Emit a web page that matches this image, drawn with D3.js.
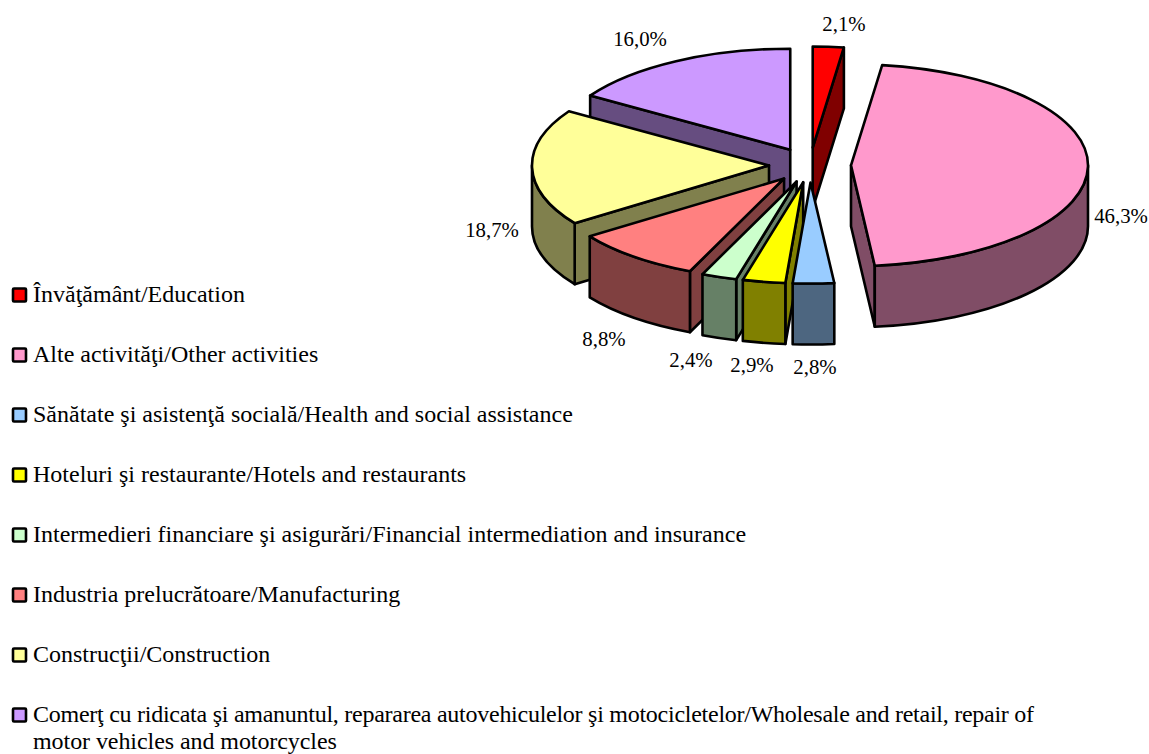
<!DOCTYPE html>
<html>
<head>
<meta charset="utf-8">
<title>Pie</title>
<style>
  html, body { margin: 0; padding: 0; background: #fff; }
  text { font-family: "Liberation Serif", serif; fill: #000; }
</style>
</head>
<body>
<script src="https://cdn.jsdelivr.net/npm/d3@7/dist/d3.min.js"></script>
<script>
var names = [
  "Învăţământ/Education",
  "Alte activităţi/Other activities",
  "Sănătate şi asistenţă socială/Health and social assistance",
  "Hoteluri şi restaurante/Hotels and restaurants",
  "Intermedieri financiare şi asigurări/Financial intermediation and insurance",
  "Industria prelucrătoare/Manufacturing",
  "Construcţii/Construction",
  "Comerţ cu ridicata şi amanuntul, repararea autovehiculelor şi motocicletelor/Wholesale and retail, repair of|motor vehicles and motorcycles"
];
var values = [2.1, 46.3, 2.8, 2.9, 2.4, 8.8, 18.7, 16.0];
var topColors = ["#ff0000", "#ff99cc", "#99ccff", "#ffff00", "#ccffcc", "#ff8080", "#ffff99", "#cc99ff"];
var sideColors = ["#800000", "#804d66", "#4d6680", "#808000", "#668066", "#804040", "#80804d", "#664d80"];

// label centres, placed by hand like in the original
var labelX = [844, 1121, 815, 752, 691, 604, 492, 640];
var labelY = [24, 216, 367, 365, 360, 339, 230, 39];

var width = 1149, height = 754;
var cx = 810, cy = 165;     // pie centre before exploding
var rx = 237, ry = 101;     // ellipse radii
var depth = 61;
var explode = 41 / rx;      // share of the radius

var svg = d3.select("body").append("svg")
  .attr("width", width)
  .attr("height", height)
  .style("display", "block");

var pie = d3.pie().sort(null).startAngle(0).endAngle(2 * Math.PI);
var slices = pie(values).map(function(d, i) {
  var mid = (d.startAngle + d.endAngle) / 2;
  d.index = i;
  d.mid = mid;
  d.ax = cx + explode * rx * Math.sin(mid);
  d.ay = cy - explode * ry * Math.cos(mid);
  return d;
});

function px(d, a) { return d.ax + rx * Math.sin(a); }
function py(d, a) { return d.ay - ry * Math.cos(a); }

function topPath(d) {
  var p = "M" + d.ax + "," + d.ay + "L" + px(d, d.startAngle) + "," + py(d, d.startAngle);
  p += "A" + rx + "," + ry + " 0 " + (d.endAngle - d.startAngle > Math.PI ? 1 : 0) + " 1 " + px(d, d.endAngle) + "," + py(d, d.endAngle);
  return p + "Z";
}

function wallPath(d, a) {
  return "M" + d.ax + "," + d.ay + "L" + px(d, a) + "," + py(d, a) +
    "L" + px(d, a) + "," + (py(d, a) + depth) + "L" + d.ax + "," + (d.ay + depth) + "Z";
}

// only the part of the rim between 90 and 270 degrees faces the viewer
function rimPath(d) {
  var a0 = Math.max(d.startAngle, Math.PI / 2), a1 = Math.min(d.endAngle, 3 * Math.PI / 2);
  if (a1 <= a0) return null;
  return "M" + px(d, a0) + "," + py(d, a0) +
    "A" + rx + "," + ry + " 0 0 1 " + px(d, a1) + "," + py(d, a1) +
    "L" + px(d, a1) + "," + (py(d, a1) + depth) +
    "A" + rx + "," + ry + " 0 0 0 " + px(d, a0) + "," + (py(d, a0) + depth) + "Z";
}

// painters order, back slices first
var ordered = slices.slice().sort(function(a, b) {
  return Math.cos(b.mid) - Math.cos(a.mid);
});

var groups = svg.append("g").selectAll("g")
  .data(ordered)
  .enter()
  .append("g")
  .attr("stroke", "#000")
  .attr("stroke-width", 2.6)
  .attr("stroke-linejoin", "round");

groups.each(function(d) {
  var g = d3.select(this);
  var side = sideColors[d.index];
  if (Math.sin(d.startAngle) < 0) g.append("path").attr("d", wallPath(d, d.startAngle)).attr("fill", side);
  if (Math.sin(d.endAngle) > 0) g.append("path").attr("d", wallPath(d, d.endAngle)).attr("fill", side);
  var rim = rimPath(d);
  if (rim) g.append("path").attr("d", rim).attr("fill", side);
  g.append("path").attr("d", topPath(d)).attr("fill", topColors[d.index]);
});

var fmt = function(v) { return v.toFixed(1).replace(".", ",") + "%"; };

svg.append("g").selectAll("text")
  .data(values)
  .enter()
  .append("text")
  .attr("x", function(d, i) { return labelX[i]; })
  .attr("y", function(d, i) { return labelY[i]; })
  .attr("dy", "0.33em")
  .attr("text-anchor", "middle")
  .attr("font-size", 20.8)
  .text(fmt);

// legend
var legendY = d3.scalePoint().domain(d3.range(names.length)).range([295, 715]);

var legend = svg.append("g").selectAll("g")
  .data(names)
  .enter()
  .append("g")
  .attr("transform", function(d, i) { return "translate(0," + legendY(i) + ")"; });

legend.append("rect")
  .attr("x", 13)
  .attr("y", -6.5)
  .attr("width", 13)
  .attr("height", 13)
  .attr("rx", 1)
  .attr("fill", function(d, i) { return topColors[i]; })
  .attr("stroke", "#000")
  .attr("stroke-width", 2.6);

legend.each(function(d) {
  var g = d3.select(this);
  var lines = d.split("|");
  lines.forEach(function(line, k) {
    g.append("text")
      .attr("x", 33)
      .attr("y", 7 + k * 27)
      .attr("font-size", 24)
      // the wrapped row is set a bit tighter in the original
      .attr("letter-spacing", lines.length > 1 ? (k == 0 ? -0.26 : -0.07) : null)
      .text(line);
  });
});
</script>
</body>
</html>
